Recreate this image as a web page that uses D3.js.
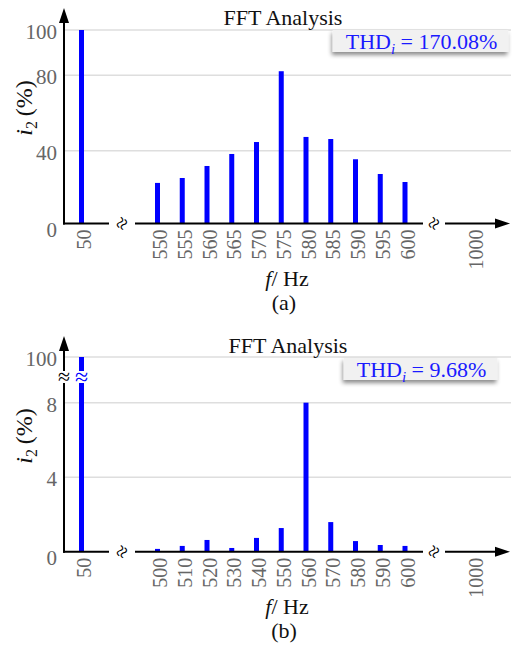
<!DOCTYPE html>
<html>
<head>
<meta charset="utf-8">
<script src="https://cdn.jsdelivr.net/npm/d3@7"></script>
<style>
  body { margin: 0; background: #fff; }
</style>
</head>
<body>
<svg width="515" height="646"></svg>
<script>
// Data for panel (a)
var freqsA = [50, 550, 555, 560, 565, 570, 575, 580, 585, 590, 595, 600];
var valuesA = [100, 22.3, 25.0, 31.6, 38.2, 44.6, 81.8, 47.3, 46.2, 35.3, 27.2, 22.8];
var yTicksA = [0, 40, 80, 100];
var thdA = "170.08%";

// Data for panel (b)
var freqsB = [50, 500, 510, 520, 530, 540, 550, 560, 570, 580, 590, 600];
var valuesB = [100, 0.15, 0.31, 0.63, 0.2, 0.74, 1.27, 8.06, 1.59, 0.57, 0.36, 0.31];
var yTicksB = [0, 4, 8, 100];
var thdB = "9.68%";

var lastTick = 1000;
var chartTitle = "FFT Analysis";

var FONT = "'Liberation Serif', 'Times New Roman', Times, 'DejaVu Serif', serif";

var svg = d3.select("svg").style("font-family", FONT);

// drop shadow for the THD boxes
var defs = svg.append("defs");
defs.append("filter")
    .attr("id", "shadow")
    .attr("x", "-20%").attr("y", "-40%")
    .attr("width", "140%").attr("height", "180%")
  .append("feDropShadow")
    .attr("dx", -1).attr("dy", 3)
    .attr("stdDeviation", 2)
    .attr("flood-color", "#000")
    .attr("flood-opacity", 0.45);

var axisX0 = 64,   // y axis position
    gridEnd = 511,
    barW = 5;

function drawPanel(offsetY, freqs, values, yTicks, yDomain, yRange, thd, caption, withBreak, titleX) {
    var g = svg.append("g").attr("transform", "translate(0," + offsetY + ")");

    // piecewise scales reproduce the broken axes
    var x = d3.scaleLinear()
        .domain([freqs[0], freqs[1], freqs[freqs.length - 1], lastTick])
        .range([81.5, 157.5, 405, 473]);
    var y = d3.scaleLinear().domain(yDomain).range(yRange);
    var baseY = y(0);

    // grid lines
    g.selectAll(".grid")
        .data(yTicks.filter(function(d) { return d > 0; }))
      .enter().append("line")
        .attr("class", "grid")
        .attr("x1", axisX0).attr("x2", gridEnd)
        .attr("y1", function(d) { return y(d); })
        .attr("y2", function(d) { return y(d); })
        .style("stroke", "#dedede")
        .style("stroke-width", 1.5);

    // title
    g.append("text")
        .attr("x", titleX).attr("y", 25)
        .style("text-anchor", "middle")
        .style("font-size", "22px")
        .style("fill", "#111")
        .text(chartTitle);

    // bars
    var data = freqs.map(function(f, i) { return {f: f, v: values[i]}; });
    g.selectAll(".bar")
        .data(data)
      .enter().append("rect")
        .attr("class", "bar")
        .attr("x", function(d) { return x(d.f) - barW / 2; })
        .attr("width", barW)
        .attr("y", function(d) { return y(d.v); })
        .attr("height", function(d) { return baseY - y(d.v); })
        .style("fill", "#0000ff");

    // y axis labels
    var yAxis = d3.axisLeft(y).tickValues(yTicks).tickSize(0).tickPadding(7);
    var gy = g.append("g").attr("transform", "translate(" + axisX0 + ",0)").call(yAxis);
    gy.attr("font-family", null).attr("font-size", null);
    gy.select(".domain").remove();
    gy.selectAll("text")
        .attr("dy", function(d) { return d === 0 ? "0.6em" : "0.4em"; })
        .style("font-size", "21px")
        .style("fill", "#666");

    // x axis labels
    var xAxis = d3.axisBottom(x).tickValues(freqs.concat([lastTick])).tickSize(0).tickFormat(d3.format("d"));
    var gx = g.append("g").attr("transform", "translate(0," + baseY + ")").call(xAxis);
    gx.attr("font-family", null).attr("font-size", null);
    gx.select(".domain").remove();
    gx.selectAll("text")
        .attr("transform", "rotate(-90)")
        .attr("x", -6)
        .attr("y", 0)
        .attr("dy", "0.45em")
        .style("text-anchor", "end")
        .style("font-size", "20px")
        .style("fill", "#666");

    // axis lines
    var segs = [[axisX0 - 1, 109], [135, 423], [445, 500]];
    g.selectAll(".xseg")
        .data(segs)
      .enter().append("line")
        .attr("x1", function(d) { return d[0]; })
        .attr("x2", function(d) { return d[1]; })
        .attr("y1", baseY).attr("y2", baseY)
        .style("stroke", "#000")
        .style("stroke-width", 2);
    g.append("path")
        .attr("d", "M510," + baseY + "L495," + (baseY - 5) + "L495," + (baseY + 5) + "Z")
        .style("fill", "#000");

    g.append("line")
        .attr("x1", axisX0).attr("x2", axisX0)
        .attr("y1", baseY + 1).attr("y2", 18)
        .style("stroke", "#000")
        .style("stroke-width", 2);
    g.append("path")
        .attr("d", "M" + axisX0 + ",8L" + (axisX0 - 5) + ",23L" + (axisX0 + 5) + ",23Z")
        .style("fill", "#000");

    // break marks on the x axis
    [122, 434].forEach(function(bx) {
        g.append("text")
            .attr("transform", "translate(" + bx + "," + baseY + ") rotate(-60)")
            .attr("dy", "0.33em")
            .style("text-anchor", "middle")
            .style("font-size", "22px")
            .style("fill", "#000")
            .text("\u2248");
    });

    // break on the y axis and on the 50 Hz bar
    if (withBreak) {
        var by = 49;
        g.append("rect")
            .attr("x", axisX0 - 8).attr("y", by - 6)
            .attr("width", 34).attr("height", 12)
            .style("fill", "#fff");
        g.append("text")
            .attr("x", axisX0).attr("y", by)
            .attr("dy", "0.33em")
            .style("text-anchor", "middle")
            .style("font-size", "22px")
            .style("fill", "#000")
            .text("\u2248");
        g.append("text")
            .attr("x", x(freqs[0])).attr("y", by)
            .attr("dy", "0.33em")
            .style("text-anchor", "middle")
            .style("font-size", "24px")
            .style("fill", "#0000ff")
            .text("\u2248");
    }

    // THD box
    var box = g.append("g");
    var rect = box.append("rect")
        .style("fill", "#f1f1f1")
        .style("filter", "url(#shadow)");
    var t = box.append("text")
        .attr("x", 421.5).attr("y", 48.5)
        .style("text-anchor", "middle")
        .style("font-size", "22px")
        .style("fill", "#1a1aff");
    t.append("tspan").text("THD");
    t.append("tspan").attr("dy", 5).style("font-style", "italic").style("font-size", "15px").text("i");
    t.append("tspan").attr("dy", -5).text(" = " + thd);
    var bb = t.node().getBBox();
    rect.attr("x", bb.x - 13).attr("y", 30)
        .attr("width", bb.width + 24).attr("height", 22);

    // y label
    var yl = g.append("text")
        .attr("transform", "translate(24,108) rotate(-90)")
        .attr("dy", "0.35em")
        .style("text-anchor", "middle")
        .style("font-size", "24px")
        .style("fill", "#111");
    yl.append("tspan").style("font-style", "italic").text("i");
    yl.append("tspan").attr("dy", 5).style("font-size", "16px").text("2");
    yl.append("tspan").attr("dy", -5).text("\u2009(%)");

    // x label
    var xl = g.append("text")
        .attr("x", 287).attr("y", 286)
        .style("text-anchor", "middle")
        .style("font-size", "22px")
        .style("fill", "#111");
    xl.append("tspan").style("font-style", "italic").text("f");
    xl.append("tspan").text("/ Hz");

    g.append("text")
        .attr("x", 284).attr("y", 310)
        .style("text-anchor", "middle")
        .style("font-size", "22px")
        .style("fill", "#111")
        .text(caption);
}

drawPanel(0, freqsA, valuesA, yTicksA, [0, 40, 80, 100], [223.5, 150.7, 75.3, 30], thdA, "(a)", false, 283);
drawPanel(328, freqsB, valuesB, yTicksB, [0, 8, 100], [223.7, 74.7, 29], thdB, "(b)", true, 288);
</script>
</body>
</html>
